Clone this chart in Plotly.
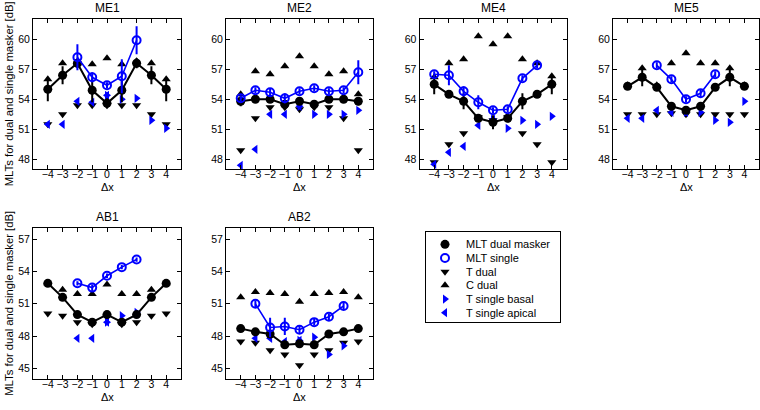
import plotly.graph_objects as go

# ---------------- data ----------------
dx = [-4, -3, -2, -1, 0, 1, 2, 3, 4]
N = None

# ME1
me1_mlt_dual = [55.0, 56.4, 57.6, 54.9, 53.6, 54.9, 57.6, 56.4, 55.0]
me1_mlt_dual_err = [1.2, 0.9, 0.5, 1.2, 0.5, 1.2, 0.5, 0.9, 1.2]
me1_mlt_single = [N, N, 58.2, 56.2, 55.4, 56.3, 59.9, N, N]
me1_mlt_single_err = [0, 0, 1.3, 0.5, 0.3, 1.7, 1.4, 0, 0]
me1_t_dual = [51.5, 52.5, 53.4, 53.4, 53.4, 53.4, 53.4, 52.5, 51.5]
me1_c_dual = [56.0, 57.6, 57.6, 57.5, 58.1, 57.5, 57.8, 57.6, 56.0]
me1_t_basal = [N, N, N, N, 54.4, 54.0, 54.1, 51.9, 51.1]
me1_t_apical = [51.5, 51.5, 53.8, 53.7, 54.4, N, N, N, N]

# ME2
me2_mlt_dual = [53.8, 54.0, 54.0, 53.5, 53.8, 53.5, 54.0, 54.0, 53.8]
me2_mlt_dual_err = [0.5, 0.3, 0.3, 0.4, 0.3, 0.4, 0.3, 0.3, 0.4]
me2_mlt_single = [54.1, 54.9, 54.7, 54.1, 54.8, 55.1, 54.8, 54.9, 56.7]
me2_mlt_single_err = [0.3, 0.3, 0.4, 0.5, 0.3, 0.3, 0.3, 0.3, 1.2]
me2_t_dual = [48.9, 52.1, 53.2, 53.2, 53.0, 53.2, 53.2, 52.1, 48.9]
me2_c_dual = [54.5, 56.8, 56.5, 57.3, 58.3, 57.3, 56.5, 56.8, 54.5]
me2_t_basal = [N, N, N, N, 53.3, 52.5, 52.5, 52.5, 52.9]
me2_t_apical = [47.4, 49.0, 52.5, 52.5, 53.3, N, N, N, N]

# ME4
me4_mlt_dual = [55.5, 54.5, 53.8, 52.1, 51.7, 52.1, 53.8, 54.5, 55.5]
me4_mlt_dual_err = [1.0, 0.3, 0.8, 0.4, 0.7, 0.4, 0.8, 0.3, 1.0]
me4_mlt_single = [56.5, 56.4, 54.8, 53.7, 52.9, 53.0, 56.1, 57.4, N]
me4_mlt_single_err = [0.3, 1.0, 0.5, 0.7, 0.3, 0.3, 0.3, 0.3, 0]
me4_t_dual = [47.7, 49.5, 50.6, 52.2, 51.9, 52.2, 50.6, 49.5, 47.7]
me4_c_dual = [56.2, 57.6, 58.0, 60.3, 59.5, 60.3, 58.0, 57.6, 56.3]
me4_t_basal = [N, N, N, N, 52.0, 51.1, 51.9, 51.5, 52.3]
me4_t_apical = [47.5, 48.7, 49.3, 51.4, 52.0, N, N, N, N]

# ME5
me5_mlt_dual = [55.3, 56.2, 55.2, 53.3, 52.9, 53.3, 55.2, 56.2, 55.3]
me5_mlt_dual_err = [0.3, 0.9, 0.3, 0.3, 0.3, 0.3, 0.3, 0.9, 0.3]
me5_mlt_single = [N, N, 57.4, 56.0, 54.0, 54.6, 56.5, N, N]
me5_mlt_single_err = [0, 0, 0.3, 0.3, 0.3, 0.4, 0.3, 0, 0]
me5_t_dual = [52.5, 52.5, 52.5, 52.6, 52.5, 52.5, 52.5, 52.5, 52.5]
me5_c_dual = [55.4, 57.1, 55.4, 57.6, 58.6, 57.6, 57.6, 57.1, 55.4]
me5_t_basal = [N, N, N, N, 52.7, 52.7, 51.9, 51.7, 53.8]
me5_t_apical = [52.1, 52.1, 52.9, 52.7, 52.7, N, N, N, N]

# AB1
ab1_mlt_dual = [52.9, 51.6, 50.0, 49.3, 50.0, 49.3, 50.0, 51.6, 52.9]
ab1_mlt_dual_err = [0.2, 0.3, 0.3, 0.3, 0.3, 0.3, 0.3, 0.3, 0.2]
ab1_mlt_single = [N, N, 52.9, 52.5, 53.6, 54.4, 55.1, N, N]
ab1_mlt_single_err = [0, 0, 0.2, 0.3, 0.2, 0.2, 0.2, 0, 0]
ab1_t_dual = [50.1, 49.9, 49.3, 49.1, 49.8, 49.1, 49.3, 49.9, 50.1]
ab1_c_dual = [52.9, 52.3, 51.9, 51.9, 52.8, 51.9, 51.9, 52.3, 52.9]
ab1_t_basal = [N, N, N, N, 49.3, 49.9, 50.2, N, N]
ab1_t_apical = [N, N, 47.8, 47.8, 49.3, N, N, N, N]

# AB2
ab2_mlt_dual = [48.7, 48.4, 48.2, 47.2, 47.3, 47.2, 48.2, 48.4, 48.7]
ab2_mlt_dual_err = [0.2, 0.3, 0.3, 0.4, 0.3, 0.4, 0.3, 0.3, 0.2]
ab2_mlt_single = [N, 51.0, 48.8, 48.9, 48.6, 49.3, 49.8, 50.8, N]
ab2_mlt_single_err = [0, 0.3, 0.9, 0.8, 0.4, 0.3, 0.3, 0.3, 0]
ab2_t_dual = [47.5, 47.4, 46.7, 46.3, 45.3, 46.3, 46.7, 47.4, 47.5]
ab2_c_dual = [51.6, 52.1, 52.0, 51.9, 51.2, 51.9, 52.0, 52.1, 51.6]
ab2_t_basal = [N, N, N, N, 47.6, 47.9, 46.3, 47.1, N]
ab2_t_apical = [N, 47.8, 47.8, 47.5, 47.6, N, N, N, N]

panel_names = ["ME1", "ME2", "ME4", "ME5", "AB1", "AB2"]
row1_yticks = [48, 51, 54, 57, 60]
row2_yticks = [45, 48, 51, 54, 57]
legend_labels = ["MLT dual masker", "MLT single", "T dual", "C dual",
                 "T single basal", "T single apical"]

panels = [
    (me1_mlt_dual, me1_mlt_dual_err, me1_mlt_single, me1_mlt_single_err, me1_t_dual, me1_c_dual, me1_t_basal, me1_t_apical),
    (me2_mlt_dual, me2_mlt_dual_err, me2_mlt_single, me2_mlt_single_err, me2_t_dual, me2_c_dual, me2_t_basal, me2_t_apical),
    (me4_mlt_dual, me4_mlt_dual_err, me4_mlt_single, me4_mlt_single_err, me4_t_dual, me4_c_dual, me4_t_basal, me4_t_apical),
    (me5_mlt_dual, me5_mlt_dual_err, me5_mlt_single, me5_mlt_single_err, me5_t_dual, me5_c_dual, me5_t_basal, me5_t_apical),
    (ab1_mlt_dual, ab1_mlt_dual_err, ab1_mlt_single, ab1_mlt_single_err, ab1_t_dual, ab1_c_dual, ab1_t_basal, ab1_t_apical),
    (ab2_mlt_dual, ab2_mlt_dual_err, ab2_mlt_single, ab2_mlt_single_err, ab2_t_dual, ab2_c_dual, ab2_t_basal, ab2_t_apical),
]

# ---------------- layout geometry (pixels) ----------------
W, H = 760, 410
FONT = "Liberation Sans, Arial, Helvetica, sans-serif"
BLUE = "#0000ff"
cols_px = [(33, 181), (226, 373), (419.5, 566.5), (613, 759)]
rows_px = [(19.3, 169.3), (228.3, 379.3)]
row_ranges = [[47, 62], [44, 58]]
row_ticks = [row1_yticks, row2_yticks]
positions = [(0, 0), (0, 1), (0, 2), (0, 3), (1, 0), (1, 1)]


def px(x):
    return x / W


def py(y):
    return 1 - y / H


fig = go.Figure()
layout = {}
annotations = []

for k, ((r, c), name, data) in enumerate(zip(positions, panel_names, panels), start=1):
    mlt_d, mlt_d_err, mlt_s, mlt_s_err, t_d, c_d, t_b, t_a = data
    xa, ya = f"x{k}", f"y{k}"
    common = dict(xaxis=xa, yaxis=ya, showlegend=False, cliponaxis=False)
    fig.add_trace(go.Scatter(x=dx, y=t_d, mode="markers",
                             marker=dict(symbol="triangle-down", size=8, color="black"), **common))
    fig.add_trace(go.Scatter(x=dx, y=c_d, mode="markers",
                             marker=dict(symbol="triangle-up", size=8, color="black"), **common))
    fig.add_trace(go.Scatter(x=dx, y=t_b, mode="markers",
                             marker=dict(symbol="triangle-right", size=8, color=BLUE), **common))
    fig.add_trace(go.Scatter(x=dx, y=t_a, mode="markers",
                             marker=dict(symbol="triangle-left", size=8, color=BLUE), **common))
    fig.add_trace(go.Scatter(x=dx, y=mlt_d, mode="lines+markers",
                             line=dict(color="black", width=2),
                             marker=dict(symbol="circle", size=9, color="black"),
                             error_y=dict(type="data", array=mlt_d_err, width=0, thickness=2, color="black"),
                             **common))
    fig.add_trace(go.Scatter(x=dx, y=mlt_s, mode="lines+markers",
                             line=dict(color=BLUE, width=1.6),
                             marker=dict(symbol="circle-open", size=8, color=BLUE, line=dict(width=2, color=BLUE)),
                             error_y=dict(type="data", array=mlt_s_err, width=0, thickness=2, color=BLUE),
                             **common))

    x0, x1 = cols_px[c]
    y0, y1 = rows_px[r]
    axis_common = dict(showline=True, linecolor="black", linewidth=1, mirror="allticks",
                       ticks="inside", ticklen=4, tickcolor="black", showgrid=False, zeroline=False,
                       tickfont=dict(size=10.5, family=FONT, color="black"))
    layout[f"xaxis{k}"] = dict(domain=[px(x0), px(x1)], range=[-5, 5], anchor=ya,
                               tickvals=dx, ticklabelstandoff=-5, **axis_common)
    layout[f"yaxis{k}"] = dict(domain=[py(y1), py(y0)], range=row_ranges[r], anchor=xa,
                               tickvals=row_ticks[r], **axis_common)
    xc = (x0 + x1) / 2
    annotations.append(dict(text=name, x=px(xc), y=py(y0 - 11.5), xref="paper", yref="paper",
                            showarrow=False, xanchor="center", yanchor="middle",
                            font=dict(size=12, family=FONT, color="black")))
    annotations.append(dict(text="Δx", x=px(xc), y=py(y1 + 17.5), xref="paper", yref="paper",
                            showarrow=False, xanchor="center", yanchor="middle",
                            font=dict(size=11, family=FONT, color="black")))

for (y0, y1) in rows_px:
    annotations.append(dict(text="MLTs for dual and single masker [dB]", x=px(9), y=py((y0 + y1) / 2),
                            xref="paper", yref="paper", showarrow=False, textangle=-90,
                            xanchor="center", yanchor="middle",
                            font=dict(size=11.3, family=FONT, color="black")))

# ---------------- custom legend (own axes) ----------------
leg_rows = list(range(len(legend_labels)))
leg_styles = [
    dict(symbol="circle", size=9, color="black"),
    dict(symbol="circle-open", size=8, color=BLUE, line=dict(width=2, color=BLUE)),
    dict(symbol="triangle-down", size=8, color="black"),
    dict(symbol="triangle-up", size=8, color="black"),
    dict(symbol="triangle-right", size=8, color=BLUE),
    dict(symbol="triangle-left", size=8, color=BLUE),
]
LX0, LX1, LY0, LY1 = 426, 560, 232, 322
for i, st in zip(leg_rows, leg_styles):
    fig.add_trace(go.Scatter(x=[19], y=[i], mode="markers", marker=st,
                             xaxis="x7", yaxis="y7", showlegend=False, hoverinfo="skip"))
    annotations.append(dict(text=legend_labels[i], x=38, y=i, xref="x7", yref="y7",
                            showarrow=False, xanchor="left", yanchor="middle",
                            font=dict(size=11, family=FONT, color="black")))
layout["xaxis7"] = dict(domain=[px(LX0), px(LX1)], range=[0, LX1 - LX0], anchor="y7",
                        showline=True, mirror=True, linecolor="black", linewidth=1,
                        ticks="", showticklabels=False, showgrid=False, zeroline=False)
layout["yaxis7"] = dict(domain=[py(LY1), py(LY0)], range=[5.68, -0.9], anchor="x7",
                        showline=True, mirror=True, linecolor="black", linewidth=1,
                        ticks="", showticklabels=False, showgrid=False, zeroline=False)

fig.update_layout(width=W, height=H, margin=dict(l=0, r=0, t=0, b=0),
                  paper_bgcolor="white", plot_bgcolor="white",
                  annotations=annotations, **layout)
fig.write_html("out.html", config={"displayModeBar": False},
               post_script="document.body.style.margin='0';")
